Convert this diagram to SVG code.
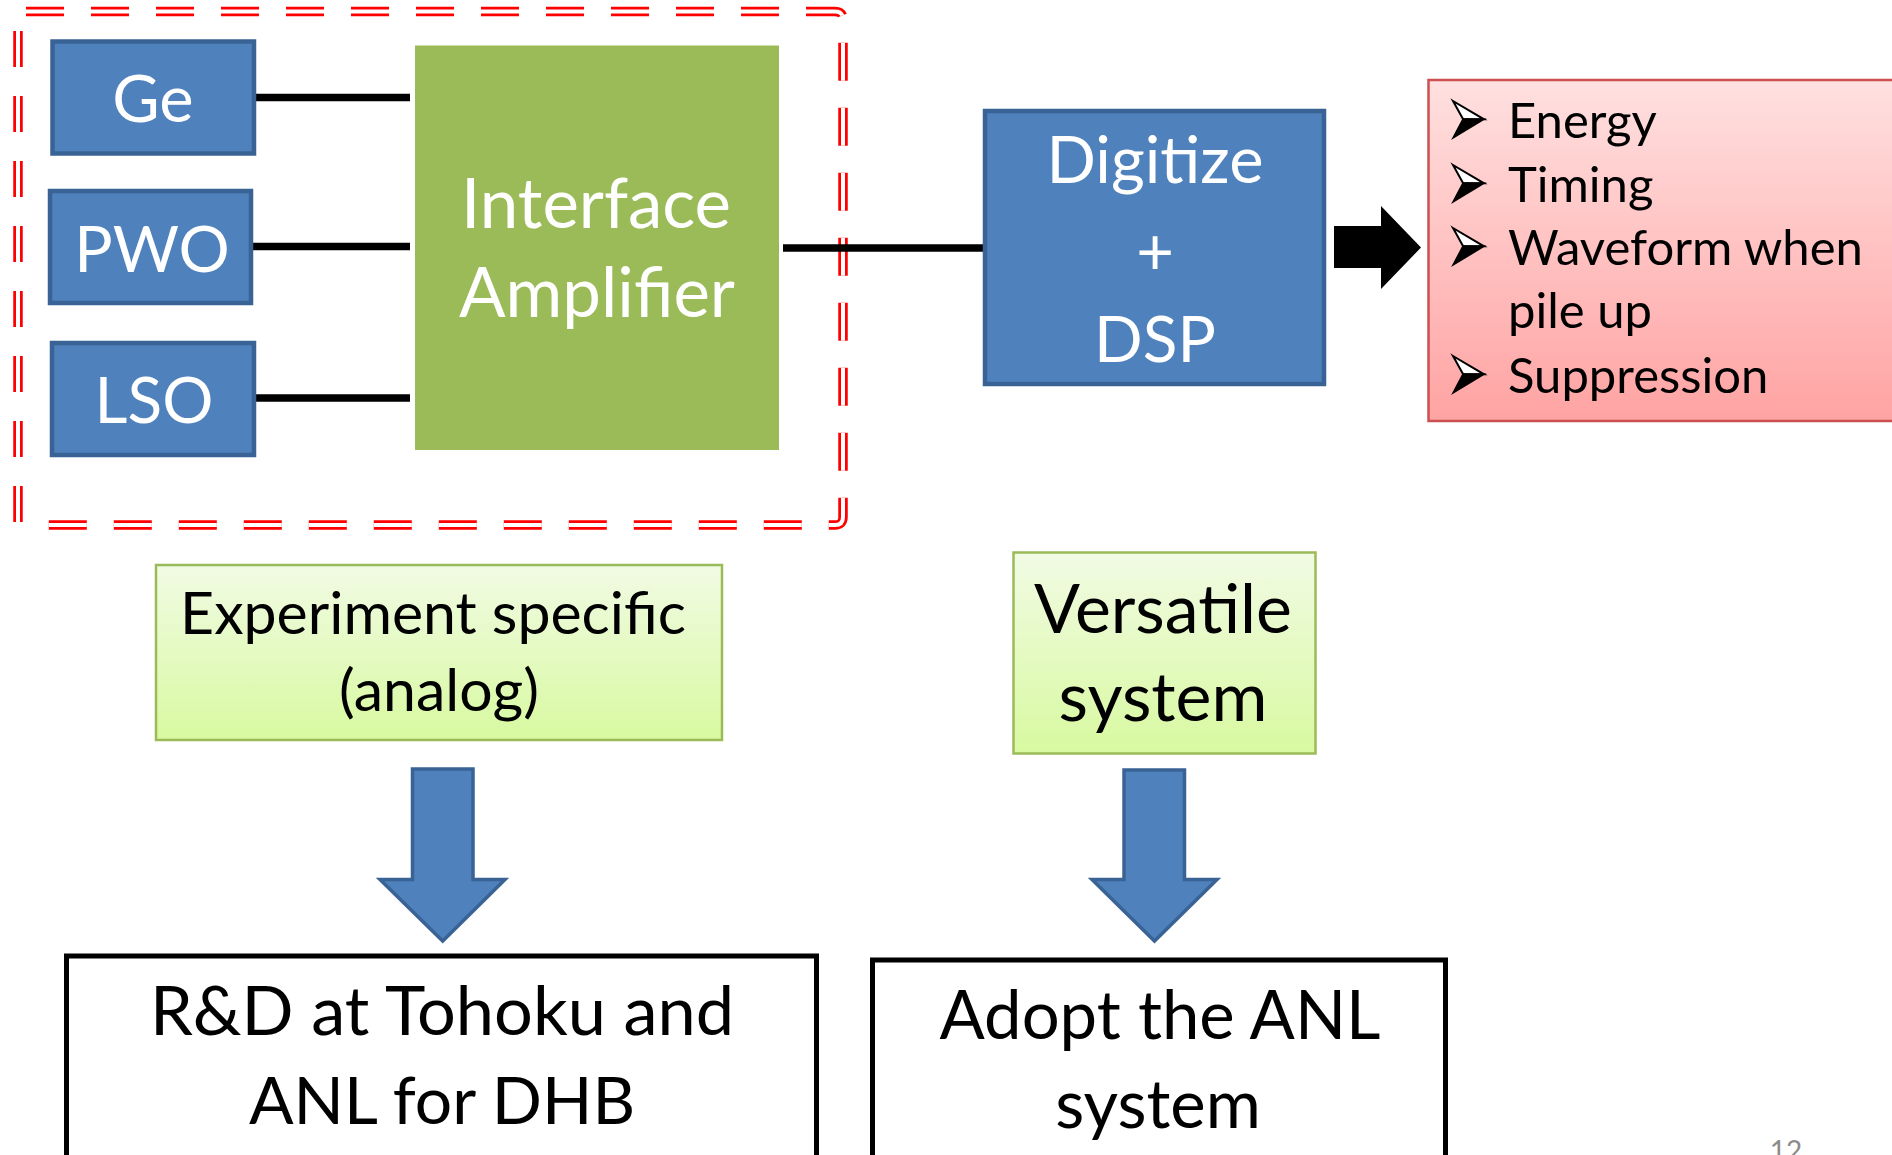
<svg xmlns="http://www.w3.org/2000/svg" width="1892" height="1155" viewBox="0 0 1892 1155">
<defs>
<linearGradient id="gRed" x1="0" y1="0" x2="0" y2="1">
<stop offset="0" stop-color="#FFE0E0"/>
<stop offset="1" stop-color="#FFA3A3"/>
</linearGradient>
<linearGradient id="gGreen" x1="0" y1="0" x2="0" y2="1">
<stop offset="0" stop-color="#F1FBE4"/>
<stop offset="1" stop-color="#D8F9A0"/>
</linearGradient>
<g id="bullet">
<path d="M0,0 L31,18.3 L10,18 Z" fill="#FFFFFF" stroke="#000" stroke-width="2" stroke-linejoin="miter"/>
<path d="M10,18 L31,18.3 L0,37 Z" fill="#000" stroke="#000" stroke-width="1.5"/>
</g>
</defs>
<style>
.t{font-family:Lato,"Open Sans","Liberation Sans",sans-serif;}
.w{fill:#FFFFFF;}
.k{fill:#000000;}
.c{text-anchor:middle;}
.blue{fill:#4F81BD;stroke:#3A6395;stroke-width:4.5;}
.bdr{fill:none;stroke:#FF0000;stroke-width:9.5;}
.bdw{fill:none;stroke:#FFFFFF;stroke-width:4;}
.conn{stroke:#000;stroke-width:7.5;fill:none;}
.barrow{fill:#4F81BD;stroke:#3A6395;stroke-width:3.5;stroke-linejoin:miter;}
.box{fill:#FFFFFF;stroke:#000;stroke-width:5;}
.gbox{fill:url(#gGreen);stroke:#9BBB59;stroke-width:2.5;}
</style>
<rect width="1892" height="1155" fill="#FFFFFF"/>

<g id="dashed-border">
<path class="bdr" d="M26,11.5 H835 Q843,11.5 843,19.5 V517 Q843,525 835,525 H40" stroke-dasharray="38 27"/>
<path class="bdw" d="M26,11.5 H835 Q843,11.5 843,19.5 V517 Q843,525 835,525 H40" stroke-dasharray="38 27"/>
<path class="bdr" d="M18,31 V526" stroke-dasharray="36 29"/>
<path class="bdw" d="M18,31 V526" stroke-dasharray="36 29"/>
</g>

<g id="connectors">
<path class="conn" d="M254,97.5 H410"/>
<path class="conn" d="M252,246.5 H410"/>
<path class="conn" d="M252,398 H410"/>
<path class="conn" d="M783,248 H983"/>
<path d="M1334,226 H1381 V206 L1421,247.5 L1381,289 V268 H1334 Z" fill="#000"/>
<path class="barrow" d="M412.5,769 H473 V879.6 H505 L442.7,941 L380,879.6 H412.5 Z"/>
<path class="barrow" d="M1124,770 H1184.5 V879.6 H1217 L1154.5,941 L1092,879.6 H1124 Z"/>
</g>

<g id="node-ge">
<rect class="blue" x="52.5" y="41.5" width="201.5" height="112"/>
<text class="t w c" x="153" y="122" font-size="65">Ge</text>
</g>
<g id="node-pwo">
<rect class="blue" x="50" y="191" width="201" height="112"/>
<text class="t w c" x="152" y="272" font-size="64">PWO</text>
</g>
<g id="node-lso">
<rect class="blue" x="52" y="343" width="202" height="112"/>
<text class="t w c" x="154" y="423" font-size="64">LSO</text>
</g>
<g id="node-interface">
<rect x="415" y="45.5" width="364" height="404.5" fill="#9BBB59"/>
<text class="t w c" x="596" y="228" font-size="69">Interface</text>
<text class="t w c" x="597" y="317" font-size="69">Amplifier</text>
</g>
<g id="node-digitize">
<rect class="blue" x="985" y="111" width="339" height="273"/>
<text class="t w c" x="1155" y="183" font-size="65">Digitize</text>
<text class="t w c" x="1155" y="275" font-size="65">+</text>
<text class="t w c" x="1155" y="362" font-size="64">DSP</text>
</g>
<g id="node-output">
<rect x="1428.5" y="80" width="500" height="341" fill="url(#gRed)" stroke="#CC5050" stroke-width="2.5"/>
<use href="#bullet" x="1453" y="101"/>
<use href="#bullet" x="1453" y="165"/>
<use href="#bullet" x="1453" y="228"/>
<use href="#bullet" x="1453" y="356"/>
<text class="t k" x="1508" y="138" font-size="49">Energy</text>
<text class="t k" x="1508" y="202" font-size="49">Timing</text>
<text class="t k" x="1508" y="265" font-size="49">Waveform when</text>
<text class="t k" x="1508" y="328" font-size="49">pile up</text>
<text class="t k" x="1508" y="393" font-size="49">Suppression</text>
</g>
<g id="node-experiment">
<rect class="gbox" x="156" y="565" width="566" height="175"/>
<text class="t k c" x="433" y="634" font-size="59">Experiment specific</text>
<text class="t k c" x="439" y="711" font-size="59">(analog)</text>
</g>
<g id="node-versatile">
<rect class="gbox" x="1013.5" y="552.5" width="302" height="201"/>
<text class="t k c" x="1163" y="633" font-size="68">Versatile</text>
<text class="t k c" x="1163" y="721" font-size="68">system</text>
</g>
<g id="node-rd">
<rect class="box" x="66.5" y="956" width="750" height="300"/>
<text class="t k c" x="442" y="1035" font-size="68.5">R&amp;D at Tohoku and</text>
<text class="t k c" x="442" y="1124" font-size="66">ANL for DHB</text>
</g>
<g id="node-adopt">
<rect class="box" x="872.5" y="960" width="573" height="300"/>
<text class="t k c" x="1160" y="1039" font-size="67">Adopt the ANL</text>
<text class="t k c" x="1158" y="1128" font-size="67">system</text>
</g>
<text class="t c" x="1786" y="1161" font-size="28" fill="#8C8C8C">12</text>
</svg>
